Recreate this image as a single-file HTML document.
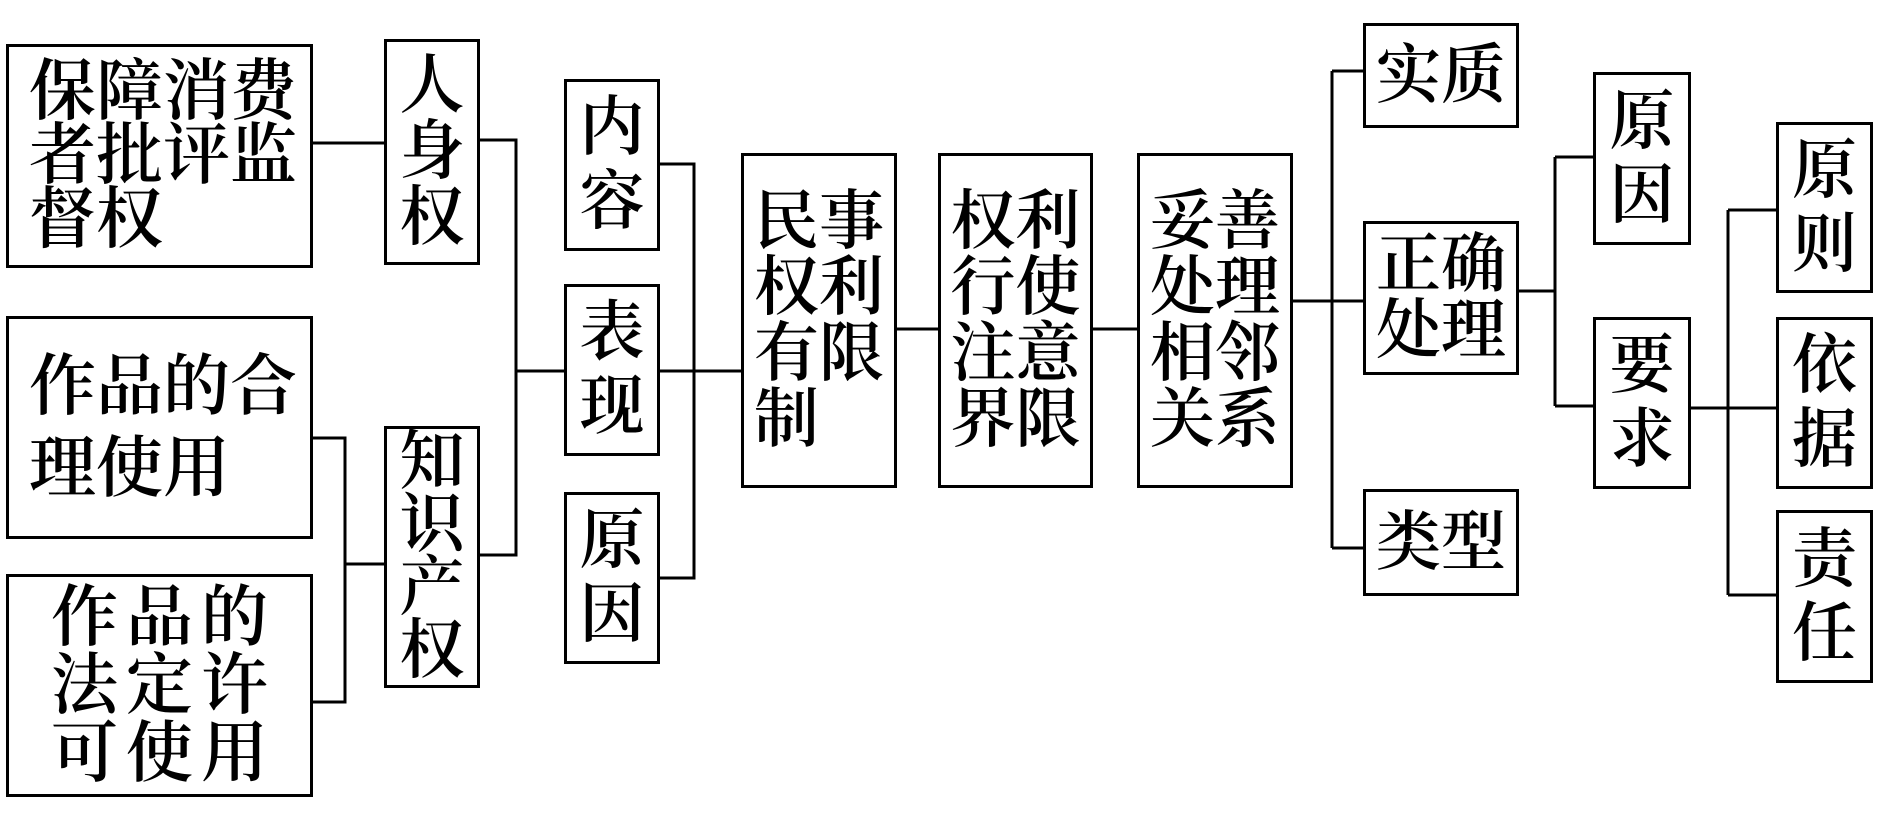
<!DOCTYPE html>
<html><head><meta charset="utf-8"><style>
body{margin:0;background:#fff;}
#c{position:relative;width:1890px;height:829px;overflow:hidden;background:#fff;}
.b{position:absolute;border:3px solid #000;box-sizing:border-box;display:flex;align-items:center;justify-content:center;
font-family:"Liberation Serif","Noto Serif CJK SC",serif;font-weight:600;font-size:65px;line-height:66px;color:#000;text-align:left;}
</style></head><body><div id="c">
<svg width="1890" height="829" style="position:absolute;left:0;top:0" fill="none" stroke="#000" stroke-width="3">
<path d="M312 143H384"/>
<path d="M479 140H516V555H479M516 371H564"/>
<path d="M312 438H345V702H312M345 564H384"/>
<path d="M659 164H694V578H659M659 371H741"/>
<path d="M896 329H938M1092 329H1137"/>
<path d="M1292 301H1363M1332 71V548M1332 71H1363M1332 548H1363"/>
<path d="M1518 291H1555M1555 157V406M1555 157H1593M1555 406H1593"/>
<path d="M1690 408H1776M1728 210V595M1728 210H1776M1728 595H1776"/>
</svg>
<div class="b" style="left:6px;top:44px;width:307px;height:224px;justify-content:flex-start;padding-left:20px;line-height:64px;font-size:67px">保障消费<br>者批评监<br>督权</div>
<div class="b" style="left:384px;top:39px;width:96px;height:226px">人<br>身<br>权</div>
<div class="b" style="left:6px;top:316px;width:307px;height:223px;justify-content:flex-start;padding-left:20px;line-height:82px;font-size:67px">作品的合<br>理使用</div>
<div class="b" style="left:6px;top:574px;width:307px;height:223px;justify-content:flex-start;padding-left:42px;letter-spacing:8px;line-height:68px;font-size:67px">作品的<br>法定许<br>可使用</div>
<div class="b" style="left:384px;top:426px;width:96px;height:262px;line-height:63px">知<br>识<br>产<br>权</div>
<div class="b" style="left:564px;top:79px;width:96px;height:172px;line-height:74px">内<br>容</div>
<div class="b" style="left:564px;top:284px;width:96px;height:172px;line-height:74px">表<br>现</div>
<div class="b" style="left:564px;top:492px;width:96px;height:172px;line-height:74px">原<br>因</div>
<div class="b" style="left:741px;top:153px;width:156px;height:335px">民事<br>权利<br>有限<br>制</div>
<div class="b" style="left:938px;top:153px;width:155px;height:335px">权利<br>行使<br>注意<br>界限</div>
<div class="b" style="left:1137px;top:153px;width:156px;height:335px">妥善<br>处理<br>相邻<br>关系</div>
<div class="b" style="left:1363px;top:23px;width:156px;height:105px">实质</div>
<div class="b" style="left:1363px;top:221px;width:156px;height:154px">正确<br>处理</div>
<div class="b" style="left:1363px;top:489px;width:156px;height:107px">类型</div>
<div class="b" style="left:1593px;top:72px;width:98px;height:173px;line-height:74px">原<br>因</div>
<div class="b" style="left:1593px;top:317px;width:98px;height:172px;line-height:74px">要<br>求</div>
<div class="b" style="left:1776px;top:122px;width:97px;height:171px;line-height:74px">原<br>则</div>
<div class="b" style="left:1776px;top:317px;width:97px;height:172px;line-height:74px">依<br>据</div>
<div class="b" style="left:1776px;top:510px;width:97px;height:173px;line-height:74px">责<br>任</div>
</div></body></html>
